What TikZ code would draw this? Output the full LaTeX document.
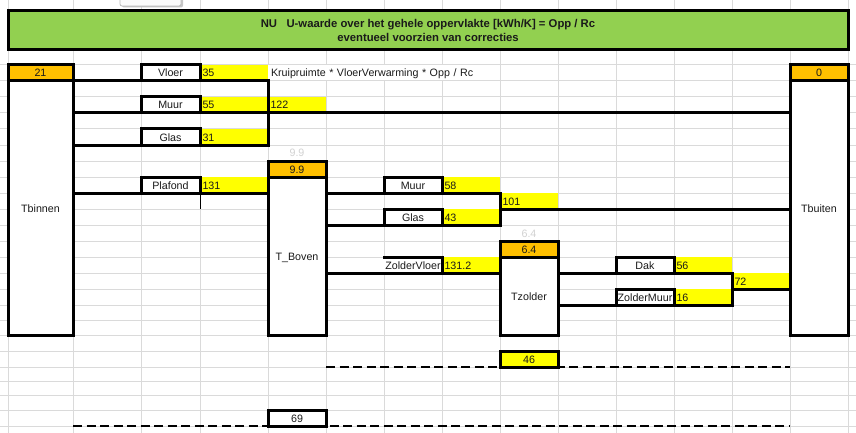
\documentclass[tikz,border=0pt]{standalone}
\usepackage{fontspec}
\setmainfont{Liberation Sans}
\definecolor{ink}{HTML}{1A1A1A}
\definecolor{gridc}{HTML}{DADADA}
\definecolor{orng}{HTML}{FFC000}
\definecolor{yelw}{HTML}{FFFF00}
\definecolor{grn}{HTML}{92D050}
\definecolor{hint}{HTML}{D2D2D2}
% a cell spanning (x1,y1)-(x2,y2): #1 style, #2 name, #3..#6 corners, #7 text
\newcommand\xcell[7]{%
  \pgfmathsetmacro\cw{#5-#3}\pgfmathsetmacro\ch{#6-#4}%
  \pgfmathsetmacro\tw{#5-#3-5}%
  \pgfmathsetmacro\cx{(#3+#5)/2}\pgfmathsetmacro\cy{(#4+#6)/2}%
  \node[minimum width=\cw pt, minimum height=\ch pt, #1] (#2) at (\cx,\cy) {#7};}
\begin{document}
\begin{tikzpicture}[x=1pt,y=-1pt,
  base/.style={inner sep=0pt, outer sep=0pt, text=ink,
    font=\fontsize{10.7}{12.8}\selectfont, text height=8pt, text depth=0pt},
  labbox/.style={base, draw=black, fill=white, line width=3pt},
  orgbox/.style={base, draw=black, fill=orng, line width=3pt},
  room/.style={base, draw=black, fill=white, line width=3pt},
  yelcell/.style={base, fill=yelw, text width=\tw pt, inner xsep=2.5pt, align=left},
  note/.style={base, fill=white, text width=\tw pt, inner xsep=2.5pt, align=left},
  hintcell/.style={base, text=hint},
  sumbox/.style={base, draw=black, line width=3pt},
  title/.style={draw=black, fill=grn, line width=3pt, inner sep=0pt, outer sep=0pt,
    text=ink, align=center, font=\fontsize{11.3}{13.7}\selectfont\bfseries},
  wire/.style={draw=black, line width=3pt, line cap=rect, line join=miter},
  dashwire/.style={draw=black, line width=2.7pt, dash pattern=on 9pt off 4.5pt},
  gridline/.style={draw=gridc, line width=1pt}]
\useasboundingbox (0,0) rectangle (856,433);
\fill[white] (0,0) rectangle (856,433);

% sheet grid
\foreach \gx in {8,73,141,200,268,326,384,442,500,558,616,674,732,790,848}
  \draw[gridline] (\gx,0) -- (\gx,433);
\foreach \gy in {65,81,97,113,129,145,161,177,193,209,225,241,257,273,289,305,320,335,351,367,381,395,410,426}
  \draw[gridline] (0,\gy) -- (856,\gy);

% floating button at the top edge
\fill[gray!45, rounded corners=2pt] (122,-6) rectangle (183,7.5);
\filldraw[fill=gray!4, draw=gray!55, line width=0.8pt, rounded corners=2pt] (120,-6) rectangle (181,6);

% heading
\xcell{title}{head}{8}{11}{848}{50}{NU\ \ \ U-waarde over het gehele oppervlakte [kWh/K] = Opp / Rc\\eventueel voorzien van correcties}

% formula note
\xcell{note}{formula}{268}{65.5}{500}{80.5}{\hspace*{0.5pt}Kruipruimte * VloerVerwarming * Opp / Rc}

% values
\xcell{yelcell}{y35}{200}{65}{268}{81}{35}
\xcell{yelcell}{y55}{200}{97}{268}{113}{55}
\xcell{yelcell}{y122}{268}{97}{326}{113}{122}
\xcell{yelcell}{y31}{200}{129}{268}{145}{31}
\xcell{yelcell}{y131}{200}{177}{268}{193}{131}
\xcell{yelcell}{y58}{442}{177}{500}{193}{58}
\xcell{yelcell}{y101}{500}{193}{558}{209}{101}
\xcell{yelcell}{y43}{442}{209}{500}{225}{43}
\xcell{yelcell}{y1312}{442}{257}{500}{273}{131.2}
\xcell{yelcell}{y56}{674}{257}{732}{273}{56}
\xcell{yelcell}{y72}{732}{273}{790}{289}{72}
\xcell{yelcell}{y16}{674}{289}{732}{305}{16}

% rooms
\xcell{room}{tbinnen}{8}{81}{73}{335}{Tbinnen}
\xcell{room}{tboven}{268}{177}{326}{335}{T\_Boven}
\xcell{room}{tzolder}{500}{257}{558}{335}{Tzolder}
\xcell{room}{tbuiten}{790}{81}{848}{335}{Tbuiten}

% temperatures
\xcell{orgbox}{t21}{8}{65}{73}{81}{21}
\xcell{orgbox}{t0}{790}{65}{848}{81}{0}
\xcell{orgbox}{t99}{268}{161}{326}{177}{9.9}
\xcell{orgbox}{t64}{500}{241}{558}{257}{6.4}
\xcell{hintcell}{h99}{268}{145}{326}{161}{9.9}
\xcell{hintcell}{h64}{500}{225}{558}{241}{6.4}

% surfaces
\xcell{labbox}{vloer}{141}{65}{200}{81}{Vloer}
\xcell{labbox}{muur1}{141}{97}{200}{113}{Muur}
\xcell{labbox}{glas1}{141}{129}{200}{145}{Glas}
\xcell{labbox}{plafond}{141}{177}{200}{193}{Plafond}
\xcell{labbox}{muur2}{384}{177}{442}{193}{Muur}
\xcell{labbox}{glas2}{384}{209}{442}{225}{Glas}
\xcell{base,fill=white}{zvloer}{384}{257}{442}{273}{ZolderVloer}
\xcell{labbox}{dak}{616}{257}{674}{273}{Dak}
\xcell{labbox}{zmuur}{616}{289}{674}{305}{ZolderMuur}
\draw[wire] (zvloer.north west) -- (zvloer.north east) -- (zvloer.south east);

% connections
\draw[wire] (tbinnen.north east) -- (y35.south east) -- (y31.south east) -- (tbinnen.east |- y31.south);
\draw[wire] (tbinnen.east |- muur1.south) -- (tbuiten.west |- muur1.south);
\draw[wire] (tbinnen.east |- plafond.south) -- (tboven.west |- plafond.south);
\draw[black, line width=1pt] (plafond.south east) -- ++(0,16);
\draw[wire] (tboven.east |- muur2.south) -- (y58.south east) -- (y43.south east) -- (tboven.east |- glas2.south);
\draw[wire] (y101.south west) -- (tbuiten.west |- y101.south);
\draw[wire] (tboven.east |- zvloer.south) -- (tzolder.west |- zvloer.south);
\draw[wire] (tzolder.east |- dak.south) -- (y56.south east) -- (y16.south east) -- (tzolder.east |- zmuur.south);
\draw[wire] (y72.south west) -- (tbuiten.west |- y72.south);

% totals
\coordinate (d1a) at (326,367);
\coordinate (d1b) at (790,367);
\coordinate (d2a) at (73,426);
\coordinate (d2b) at (790,426);
\draw[dashwire] (d1a) -- (d1b);
\draw[dashwire] (d2a) -- (d2b);
\xcell{sumbox,fill=yelw}{s46}{500}{351}{558}{367}{46}
\xcell{sumbox,fill=white}{s69}{268}{410}{326}{426}{69}
\end{tikzpicture}
\end{document}
